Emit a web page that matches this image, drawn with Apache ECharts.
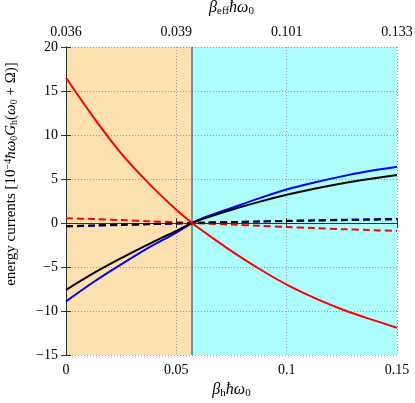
<!DOCTYPE html>
<html>
<head>
<meta charset="UTF-8">
<script src="https://cdn.jsdelivr.net/npm/echarts@6/dist/echarts.min.js"></script>
<style>
html, body { margin: 0; padding: 0; background: #fff; }
#main { width: 415px; height: 403px; }
</style>
</head>
<body>
<div id="main"></div>
<script type="text/javascript">
// values
var xs = [0, 0.0125, 0.025, 0.0375, 0.05, 0.0571, 0.0625, 0.075, 0.0875, 0.1, 0.1125, 0.125, 0.1375, 0.15];
var redSolid = [16.5, 12.0, 7.9, 4.5, 1.5, 0, -1.0, -3.2, -5.2, -7.0, -8.5, -9.8, -10.9, -11.9];
var blackSolid = [-7.6, -5.7, -4.0, -2.4, -0.9, 0, 0.5, 1.5, 2.4, 3.2, 3.9, 4.5, 5.0, 5.45];
var blueSolid = [-8.9, -6.7, -4.7, -2.8, -1.1, 0, 0.6, 1.7, 2.8, 3.8, 4.6, 5.3, 5.9, 6.4];
var redDash = [0.55, 0.45, 0.33, 0.2, 0.08, 0, -0.05, -0.18, -0.32, -0.45, -0.58, -0.7, -0.8, -0.9];
var blackDash = [-0.35, -0.27, -0.2, -0.12, -0.05, 0, 0.04, 0.1, 0.16, 0.22, 0.27, 0.32, 0.37, 0.42];
var blueDash = [-0.4, -0.31, -0.23, -0.14, -0.05, 0, 0.04, 0.11, 0.18, 0.25, 0.31, 0.37, 0.42, 0.47];
var topLabels = ['0.036', '0.039', '0.101', '0.133'];
var splitX = 0.0571;

function pairs(ys) {
    return xs.map(function (x, i) { return [x, ys[i]]; });
}

var font = 'Liberation Serif';
var myChart = echarts.init(document.getElementById('main'));

var lineSeries = function (name, ys, color, dashed) {
    return {
        name: name,
        type: 'line',
        data: pairs(ys),
        smooth: 0.3,
        showSymbol: false,
        lineStyle: { color: color, width: 2, type: dashed ? [7, 4] : 'solid' },
        z: 3
    };
};

var titleRich = {
    i: { fontFamily: font, fontStyle: 'italic', fontSize: 16, color: '#000' },
    s: { fontFamily: font, fontSize: 11, color: '#000', verticalAlign: 'bottom', padding: [7, 0, 0, 0] }
};

var option = {
    animation: false,
    grid: { left: 66, right: 18, top: 47, bottom: 48, outerBoundsMode: 'none' },
    xAxis: [{
        type: 'value', position: 'bottom', z: 1,
        min: 0, max: 0.15, interval: 0.05,
        name: '{i|β}{s|h}{i|ħω}{s|0}',
        nameLocation: 'middle', nameGap: 26,
        nameTextStyle: { rich: titleRich },
        axisLine: { lineStyle: { color: '#333', width: 1 } },
        axisTick: { inside: true, length: 5, lineStyle: { color: '#333' } },
        axisLabel: { fontFamily: font, fontSize: 14, color: '#000', margin: 8 },
        splitLine: { show: true, lineStyle: { color: '#999', type: [1, 2], width: 1 } }
    }, {
        type: 'value', position: 'top', z: 1,
        min: 0, max: 0.15, interval: 0.05,
        name: '{i|β}{s|eff}{i|ħω}{s|0}',
        nameLocation: 'middle', nameGap: 30,
        nameTextStyle: { rich: titleRich },
        axisLine: { lineStyle: { color: '#333', width: 1 } },
        axisTick: { inside: true, length: 5, lineStyle: { color: '#333' } },
        axisLabel: {
            fontFamily: font, fontSize: 14, color: '#000', margin: 8,
            formatter: function (v) { return topLabels[Math.round(v / 0.05)]; }
        },
        splitLine: { show: false }
    }],
    yAxis: [{
        type: 'value', position: 'left', z: 1,
        min: -15, max: 20, interval: 5,
        name: 'energy currents [10{sup|−4}{i|ħω}{sub|0}{i|G}{sub|h}({i|ω}{sub|0} + Ω)]',
        nameLocation: 'middle', nameGap: 47, nameRotate: 90,
        nameTextStyle: {
            fontFamily: font, fontSize: 15, color: '#000',
            padding: [0, 0, 0, 54],
            rich: {
                i: { fontFamily: font, fontStyle: 'italic', fontSize: 15, color: '#000' },
                sup: { fontFamily: font, fontSize: 10, color: '#000', verticalAlign: 'top', padding: [0, 0, 6, 0] },
                sub: { fontFamily: font, fontSize: 10, color: '#000', verticalAlign: 'bottom', padding: [6, 0, 0, 0] }
            }
        },
        axisLine: { show: true, lineStyle: { color: '#333', width: 1 } },
        axisTick: { show: true, inside: true, length: 5, lineStyle: { color: '#333' } },
        axisLabel: {
            fontFamily: font, fontSize: 14, color: '#000', margin: 8,
            formatter: function (v) { return v < 0 ? '\u2212' + Math.abs(v) : String(v); }
        },
        splitLine: { show: true, lineStyle: { color: '#999', type: [1, 2], width: 1 } }
    }, {
        type: 'value', position: 'right', z: 1,
        min: -15, max: 20, interval: 5,
        axisLine: { show: true, lineStyle: { color: '#333', width: 1 } },
        axisTick: { show: true, inside: true, length: 5, lineStyle: { color: '#333' } },
        axisLabel: { show: false },
        splitLine: { show: false }
    }],
    series: [
        {
            name: 'bg',
            type: 'line',
            data: [],
            z: 0,
            markArea: {
                silent: true,
                z: 0,
                itemStyle: { opacity: 1 },
                data: [
                    [{ xAxis: 0, yAxis: -15, itemStyle: { color: '#fde0b0' } }, { xAxis: splitX, yAxis: 20 }],
                    [{ xAxis: splitX, yAxis: -15, itemStyle: { color: '#adfdfd' } }, { xAxis: 0.15, yAxis: 20 }]
                ]
            }
        },
        {
            name: 'divider',
            type: 'line',
            data: [[splitX, -15], [splitX, 20]],
            showSymbol: false,
            lineStyle: { color: '#333', width: 1 },
            z: 2
        },
        lineSeries('blue dashed', blueDash, '#0000ff', true),
        lineSeries('red dashed', redDash, '#ff0000', true),
        lineSeries('black dashed', blackDash, '#000000', true),
        lineSeries('blue', blueSolid, '#0000ff', false),
        lineSeries('black', blackSolid, '#000000', false),
        lineSeries('red', redSolid, '#ff0000', false)
    ]
};

myChart.setOption(option);
</script>
</body>
</html>
